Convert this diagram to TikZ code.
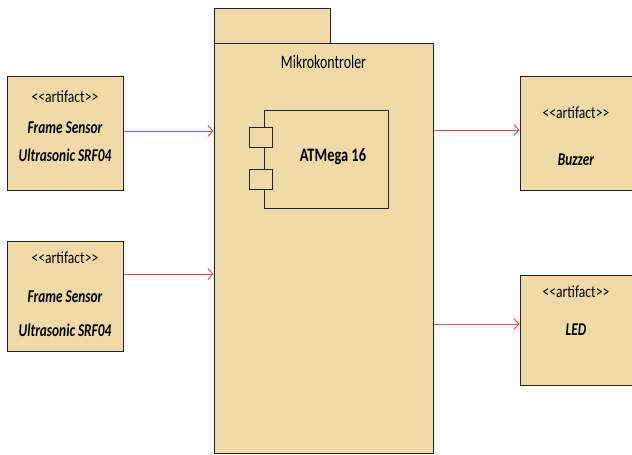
\documentclass[tikz,border=0pt]{standalone}
\usepackage{graphicx}
\usepackage{fontspec}
\setmainfont{Carlito}
\usetikzlibrary{arrows.meta}

\definecolor{umlfill}{RGB}{240,218,170}
\definecolor{umlline}{RGB}{35,35,35}
\definecolor{umlred}{RGB}{208,88,88}

\newcommand{\narrow}[2]{\scalebox{#1}[1]{#2}}

\tikzset{
    box/.style={draw=umlline, fill=umlfill, line width=1pt, inner sep=0pt},
    stereo/.style={font=\fontsize{17}{19}\selectfont, inner sep=0pt},
    artname/.style={font=\fontsize{18}{20}\selectfont\bfseries\itshape, inner sep=0pt},
    link/.style={draw=umlred, line width=1pt, -{Straight Barb[length=5pt,width=11pt]}}
}

\begin{document}
\begin{tikzpicture}[x=1pt,y=-1pt]
\useasboundingbox (0,0) rectangle (632,455);

% package
\node [box, minimum width=116pt, minimum height=35pt] (tab) at (272,25.5) {};
\node [box, minimum width=219pt, minimum height=410pt] (pkg) at (323.5,248) {};
\node [font=\fontsize{19}{21}\selectfont, inner sep=0pt] (pkgname) at ([yshift=-19pt]pkg.north) {\narrow{0.73}{Mikrokontroler}};

% component
\node [box, minimum width=124pt, minimum height=98pt] (chip) at (326,159) {};
\node [box, minimum width=23pt, minimum height=20pt] (port1) at (260.5,137) {};
\node [box, minimum width=23pt, minimum height=20pt] (port2) at (260.5,179) {};
\node [font=\fontsize{19}{21}\selectfont\bfseries, inner sep=0pt] (chipname) at (333,157) {\narrow{0.76}{ATMega 16}};

% sensors
\node [box, minimum width=116pt, minimum height=114pt] (sensA) at (65,133) {};
\node [stereo] at (65,97) {\narrow{0.8}{{<}{<}artifact{>}{>}}};
\node [artname] at (65,128) {\narrow{0.74}{Frame Sensor}};
\node [artname] at (65,155) {\narrow{0.74}{Ultrasonic SRF04}};

\node [box, minimum width=116pt, minimum height=110pt] (sensB) at (65,296) {};
\node [stereo] at (65,258) {\narrow{0.8}{{<}{<}artifact{>}{>}}};
\node [artname] at (65,297) {\narrow{0.74}{Frame Sensor}};
\node [artname] at (65,330) {\narrow{0.74}{Ultrasonic SRF04}};

% outputs
\node [box, minimum width=113pt, minimum height=114pt] (buzzer) at (576.5,133) {};
\node [stereo] at (576,113) {\narrow{0.8}{{<}{<}artifact{>}{>}}};
\node [artname] at (576,160) {\narrow{0.74}{Buzzer}};

\node [box, minimum width=113pt, minimum height=110pt] (led) at (576.5,330) {};
\node [stereo] at (576,292) {\narrow{0.8}{{<}{<}artifact{>}{>}}};
\node [artname] at (576,330) {\narrow{0.74}{LED}};

% connectors
\draw [link] ([yshift=2pt]sensA.east) -- ([yshift=2pt]sensA.east -| pkg.west);
\draw [link] ([yshift=22pt]sensB.east) -- ([yshift=22pt]sensB.east -| pkg.west);
\draw [link] ([yshift=3pt]buzzer.west -| pkg.east) -- ([yshift=3pt]buzzer.west);
\draw [link] ([yshift=6pt]led.west -| pkg.east) -- ([yshift=6pt]led.west);

\end{tikzpicture}
\end{document}
